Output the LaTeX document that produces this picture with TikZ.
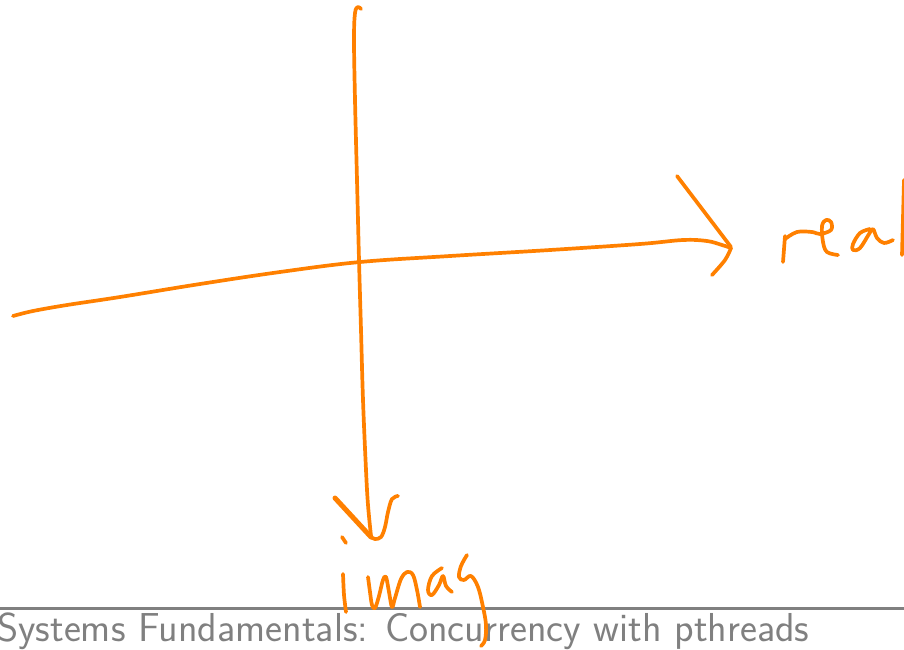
\documentclass[tikz,border=0pt]{standalone}
\definecolor{pen}{RGB}{255,128,0}
\definecolor{footgray}{RGB}{128,128,128}
\tikzset{
  ink/.style={draw=pen, line width=3.7pt, line cap=round, line join=round},
  thickink/.style={ink, line width=5pt},
  footrule/.style={draw=footgray, line width=3.5pt},
  foottext/.style={text=footgray, font=\fontsize{40.4}{48}\selectfont\sffamily, inner sep=0pt, anchor=base west}
}
\begin{document}
\begin{tikzpicture}[x=1pt,y=-1pt]
\useasboundingbox (0,0) rectangle (904,649);
% footer
\draw[footrule] (0,608.5) -- (904,608.5);
\node[foottext] (foot) at (-3,641) {Systems Fundamentals: Concurrency with pthreads};
% vertical axis
\draw[ink] plot[smooth, tension=0.6] coordinates {(361,9) (358,7) (355,13) (354,40) (355,100) (357,180) (359,260) (361,330) (363,400) (366,470) (368,505) (371,536)};
% down arrowhead
\draw[thickink] (335,498) -- (371,537);
\draw[ink] plot[smooth, tension=0.6] coordinates {(398,496) (392,499) (388,512) (385,527) (381,537) (375,539) (371,537)};
% horizontal axis
\draw[ink] plot[smooth, tension=0.6] coordinates {(13,316) (33,311) (67,305) (120,297) (200,284) (280,272) (360,262) (450,256) (550,250) (640,244) (683,240) (707,241) (722,245) (731,248)};
% right arrowhead
\draw[ink] (677,176) -- (731,247);
\draw[ink] plot[smooth, tension=0.6] coordinates {(731,248) (725,260) (712,275)};
% "real"
\draw[ink] (785,236) -- (783,262);
\draw[ink] plot[smooth, tension=0.6] coordinates {(785,239) (797,232) (812,232) (820,234) (831,230) (831,222) (826,220) (822,226) (823,242) (827,252) (838,255)};
\draw[ink] plot[smooth, tension=0.6] coordinates {(870,229) (860,233) (853,244) (853,250) (860,248) (869,234) (873,229) (877,238) (884,243) (893,240)};
\draw[ink] (904,180) -- (902,255);
% "imag"
\draw[ink] (342,537) -- (346,543);
\draw[ink] plot[smooth, tension=0.5] coordinates {(343,574) (344,595) (346,612)};
\draw[ink] plot[smooth, tension=0.6] coordinates {(368,577) (370,592) (372,605) (375,608) (379,596) (383,580) (386,577) (389,592) (392,607) (395,598) (401,579) (407,572) (413,575) (417,590) (420,607)};
\draw[ink] plot[smooth, tension=0.6] coordinates {(442,568) (432,576) (428,590) (432,595) (439,585) (443,576) (446,586) (452,592)};
\draw[ink] plot[smooth, tension=0.6] coordinates {(467,555) (461,566) (459,577) (464,580) (471,576) (478,587) (483,607) (486,625) (485,640) (481,646)};
\end{tikzpicture}
\end{document}
